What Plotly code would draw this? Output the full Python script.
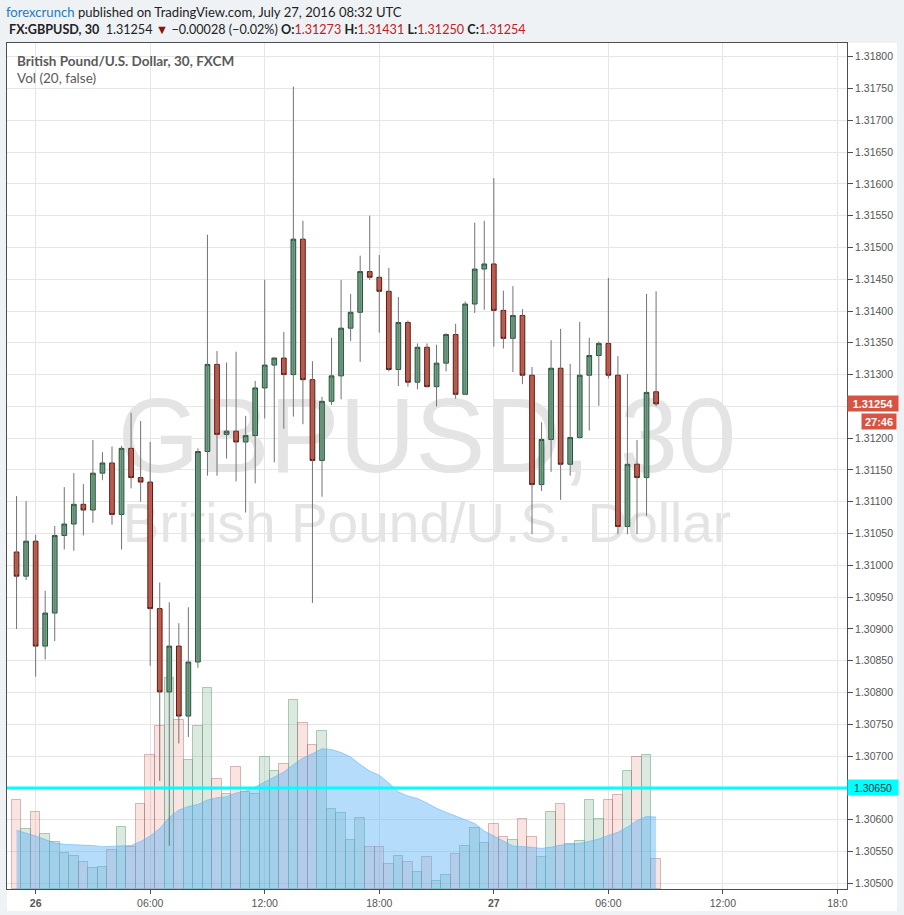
import plotly.graph_objects as go
import pandas as pd

# ---------------- data ----------------
bar_times = pd.date_range("2016-07-25 23:00", periods=68, freq="30min")

opens = [1.31021, 1.30983, 1.31038, 1.30873, 1.30925, 1.31047, 1.31065, 1.31096, 1.31087, 1.31145,
         1.31161, 1.31080, 1.31184, 1.31138, 1.31131, 1.30932, 1.30801, 1.30873, 1.30763, 1.30848,
         1.31179, 1.31316, 1.31206, 1.31211, 1.31194, 1.31204, 1.31279, 1.31315, 1.31326, 1.31300,
         1.31513, 1.31292, 1.31165, 1.31258, 1.31298, 1.31373, 1.31398, 1.31462, 1.31453, 1.31431,
         1.31308, 1.31382, 1.31288, 1.31343, 1.31281, 1.31318, 1.31363, 1.31269, 1.31411, 1.31466,
         1.31474, 1.31401, 1.31357, 1.31393, 1.31299, 1.31127, 1.31198, 1.31310, 1.31159, 1.31201,
         1.31299, 1.31330, 1.31349, 1.31299, 1.31061, 1.31159, 1.31138, 1.31273]
highs = [1.31109, 1.31101, 1.31048, 1.30960, 1.31062, 1.31123, 1.31145, 1.31128, 1.31197, 1.31178,
         1.31187, 1.31188, 1.31240, 1.31227, 1.31194, 1.30973, 1.30942, 1.30909, 1.30934, 1.31184,
         1.31520, 1.31337, 1.31319, 1.31336, 1.31235, 1.31290, 1.31449, 1.31327, 1.31367, 1.31753,
         1.31542, 1.31321, 1.31265, 1.31358, 1.31449, 1.31427, 1.31487, 1.31550, 1.31488, 1.31468,
         1.31422, 1.31385, 1.31349, 1.31349, 1.31347, 1.31365, 1.31380, 1.31415, 1.31539, 1.31542,
         1.31609, 1.31432, 1.31439, 1.31403, 1.31312, 1.31225, 1.31354, 1.31372, 1.31317, 1.31383,
         1.31358, 1.31352, 1.31452, 1.31329, 1.31301, 1.31197, 1.31427, 1.31431]
lows = [1.30900, 1.30977, 1.30825, 1.30852, 1.30881, 1.31025, 1.31023, 1.31047, 1.31067, 1.31134,
        1.31064, 1.31025, 1.31121, 1.31100, 1.30842, 1.30661, 1.30559, 1.30720, 1.30730, 1.30839,
        1.31141, 1.31141, 1.31168, 1.31132, 1.31083, 1.31129, 1.31231, 1.31162, 1.31215, 1.31234,
        1.31222, 1.30941, 1.31108, 1.31252, 1.31261, 1.31353, 1.31320, 1.31449, 1.31366, 1.31305,
        1.31282, 1.31281, 1.31277, 1.31280, 1.31250, 1.31305, 1.31262, 1.31268, 1.31397, 1.31402,
        1.31344, 1.31341, 1.31304, 1.31285, 1.31049, 1.31117, 1.31147, 1.31103, 1.31141, 1.31200,
        1.31212, 1.31251, 1.31294, 1.31049, 1.31049, 1.31049, 1.31078, 1.31250]
closes = [1.30983, 1.31038, 1.30873, 1.30925, 1.31047, 1.31065, 1.31096, 1.31087, 1.31145, 1.31161,
          1.31080, 1.31184, 1.31138, 1.31131, 1.30932, 1.30801, 1.30873, 1.30763, 1.30848, 1.31179,
          1.31316, 1.31206, 1.31211, 1.31194, 1.31204, 1.31279, 1.31315, 1.31326, 1.31300, 1.31513,
          1.31292, 1.31165, 1.31258, 1.31298, 1.31373, 1.31398, 1.31462, 1.31453, 1.31431, 1.31308,
          1.31382, 1.31288, 1.31343, 1.31281, 1.31318, 1.31363, 1.31269, 1.31411, 1.31466, 1.31474,
          1.31401, 1.31357, 1.31393, 1.31299, 1.31127, 1.31198, 1.31310, 1.31159, 1.31201, 1.31299,
          1.31330, 1.31349, 1.31299, 1.31061, 1.31159, 1.31138, 1.31272, 1.31254]
volumes = [887, 597, 767, 547, 467, 357, 327, 267, 207, 217, 387, 617, 420, 847, 1337, 1627, 2107,
           1687, 1287, 1627, 2007, 1097, 953, 1217, 970, 947, 1317, 1180, 1247, 1887, 1657, 1437,
           1577, 797, 757, 487, 707, 417, 417, 250, 327, 267, 167, 317, 77, 137, 350, 427, 607, 457,
           647, 517, 487, 697, 517, 317, 767, 847, 447, 477, 887, 697, 887, 937, 1177, 1317, 1337, 297]
vol_ma20 = [587, 560, 530, 495, 460, 447, 443, 441, 434, 423, 425, 430, 435, 475, 530, 605, 715,
            790, 825, 845, 890, 913, 923, 960, 980, 1020, 1070, 1125, 1170, 1245, 1310, 1353, 1403,
            1395, 1365, 1320, 1245, 1180, 1137, 1060, 970, 930, 905, 860, 807, 767, 727, 695, 655,
            580, 530, 480, 430, 425, 415, 407, 418, 440, 445, 455, 477, 500, 535, 567, 620, 685,
            725, 720]

x_tick_vals = ["2016-07-26 00:00", "2016-07-26 06:00", "2016-07-26 12:00", "2016-07-26 18:00",
               "2016-07-27 00:00", "2016-07-27 06:00", "2016-07-27 12:00", "2016-07-27 18:00"]
x_tick_text = ["<b>26</b>", "06:00", "12:00", "18:00", "<b>27</b>", "06:00", "12:00", "18:0"]
y_tick_vals = [round(1.305 + 0.0005 * k, 4) for k in range(27)]

last_price = 1.31254
countdown = "27:46"
level_line = 1.30650

X_RANGE = ["2016-07-25 22:30", "2016-07-27 18:30"]
PRICE_RANGE = [1.304910, 1.318215]
VOL_RANGE = [0, 8460]

# tick labels hidden behind the axis price labels (gridlines kept)
hidden_ticks = [1.3125, 1.3065]
y_tick_text = ["" if v in hidden_ticks else f"{v:.5f}" for v in y_tick_vals]

# ---------------- style ----------------
UP_FILL, UP_LINE = "#6ba583", "#225437"
DN_FILL, DN_LINE = "#d75442", "#5b1a13"
WICK = "#737375"
GRID = "#e6e6e6"
AXIS = "#4d4d4d"
TXT = "#555555"
PAGE = "#eef2f5"

W, H = 904, 915
L, R, T, B = 7, 57, 43, 26
PW, PH = W - L - R, H - T - B


def px_x(px):
    return (px - L) / PW


def px_y(py):
    return (H - B - py) / PH


fig = go.Figure()

# watermark (beneath everything)
t0, t1 = pd.Timestamp(X_RANGE[0]), pd.Timestamp(X_RANGE[1])
x_mid = t0 + (t1 - t0) / 2
fig.add_trace(go.Scatter(
    x=[x_mid], y=[VOL_RANGE[1] * 0.524], yaxis="y",
    mode="text", text=["GBPUSD, 30"], textposition="middle center",
    textfont=dict(family="Liberation Sans, Arial, sans-serif", size=105, color="#e4e4e4"),
    hoverinfo="skip", showlegend=False))
fig.add_trace(go.Scatter(
    x=[x_mid], y=[VOL_RANGE[1] * 0.427], yaxis="y",
    mode="text", text=["British Pound/U.S. Dollar"], textposition="middle center",
    textfont=dict(family="Liberation Sans, Arial, sans-serif", size=55, color="#e4e4e4"),
    hoverinfo="skip", showlegend=False))

# volume moving-average area
fig.add_trace(go.Scatter(
    x=bar_times, y=vol_ma20, yaxis="y", mode="lines", fill="tozeroy",
    line=dict(color="rgba(90,178,246,0.55)", width=1),
    fillcolor="rgba(90,178,246,0.45)", hoverinfo="skip", showlegend=False))

# volume bars
is_up = [c >= o for o, c in zip(opens, closes)]
fig.add_trace(go.Bar(
    x=bar_times, y=volumes, yaxis="y",
    marker=dict(color=["rgba(107,165,131,0.24)" if u else "rgba(215,84,66,0.16)" for u in is_up],
                line=dict(color=["rgba(107,165,131,0.55)" if u else "rgba(160,90,90,0.4)" for u in is_up],
                          width=1)),
    hoverinfo="skip", showlegend=False))

# wicks
wx, wy = [], []
for t, lo, hi in zip(bar_times, lows, highs):
    wx += [t, t, None]
    wy += [lo, hi, None]
fig.add_trace(go.Scatter(x=wx, y=wy, yaxis="y2", mode="lines",
                         line=dict(color=WICK, width=1), hoverinfo="skip", showlegend=False))

# bodies
fig.add_trace(go.Candlestick(
    x=bar_times, open=opens, close=closes,
    high=[max(o, c) for o, c in zip(opens, closes)],
    low=[min(o, c) for o, c in zip(opens, closes)],
    yaxis="y2", whiskerwidth=0,
    increasing=dict(fillcolor=UP_FILL, line=dict(color=UP_LINE, width=1)),
    decreasing=dict(fillcolor=DN_FILL, line=dict(color=DN_LINE, width=1)),
    hoverinfo="skip", showlegend=False))

axis_font = dict(family="Liberation Sans, Arial, sans-serif", size=10.5, color=TXT)

fig.update_layout(
    width=W, height=H,
    margin=dict(l=L, r=R, t=T, b=B, pad=0),
    paper_bgcolor=PAGE, plot_bgcolor="#ffffff",
    showlegend=False, bargap=0, boxgap=0.3,
    xaxis=dict(type="date", range=X_RANGE, rangeslider=dict(visible=False),
               tickmode="array", tickvals=x_tick_vals, ticktext=x_tick_text,
               showgrid=True, gridcolor=GRID, gridwidth=1, zeroline=False,
               showline=True, linecolor=AXIS, linewidth=1, mirror=True,
               ticks="outside", ticklen=4, tickcolor=AXIS, tickfont=axis_font),
    yaxis=dict(range=VOL_RANGE, showgrid=False, zeroline=False, showticklabels=False,
               showline=True, linecolor=AXIS, linewidth=1, ticks=""),
    yaxis2=dict(overlaying="y", side="right", range=PRICE_RANGE,
                tickmode="array", tickvals=y_tick_vals, ticktext=y_tick_text,
                showgrid=True, gridcolor=GRID, gridwidth=1, zeroline=False,
                showline=True, linecolor=AXIS, linewidth=1,
                ticks="outside", ticklen=5, tickcolor=AXIS, tickfont=axis_font),
)

# white chart frame behind plot + axes
fig.add_shape(type="rect", xref="paper", yref="paper", x0=0, x1=px_x(897), y0=px_y(911), y1=1,
              fillcolor="#ffffff", line=dict(width=0), layer="below")
# horizontal level line
fig.add_shape(type="line", xref="paper", yref="y2", x0=0, x1=1, y0=level_line, y1=level_line,
              line=dict(color="#00ffff", width=3), layer="above")

hdr_font = "Lato, Open Sans, sans-serif"
red = "#c0211f"
sp = "\u00a0"
fig.add_annotation(
    xref="paper", yref="paper", x=px_x(4), y=px_y(12), xanchor="left", yanchor="middle",
    showarrow=False, align="left",
    text="<span style='color:#2a7ab8'>forexcrunch</span> published on TradingView.com, July 27, 2016 08:32 UTC",
    font=dict(family=hdr_font, size=13.1, color="#222222"))
fig.add_annotation(
    xref="paper", yref="paper", x=px_x(7), y=px_y(30), xanchor="left", yanchor="middle",
    showarrow=False, align="left",
    text=("<b>FX:GBPUSD, 30</b>" + sp + sp + f"{last_price:.5f}" + sp +
          "<span style='color:#8b1010'>\u25bc</span>" + sp + "\u22120.00028 (\u22120.02%)" + sp +
          f"<b>O:</b><span style='color:{red}'>{opens[-1]:.5f}</span>" + sp +
          f"<b>H:</b><span style='color:{red}'>{highs[-1]:.5f}</span>" + sp +
          f"<b>L:</b><span style='color:{red}'>{lows[-1]:.5f}</span>" + sp +
          f"<b>C:</b><span style='color:{red}'>{closes[-1]:.5f}</span>"),
    font=dict(family=hdr_font, size=12.6, color="#222222"))
fig.add_annotation(
    xref="paper", yref="paper", x=px_x(15), y=px_y(61), xanchor="left", yanchor="middle",
    showarrow=False, align="left", text="<b>British Pound/U.S. Dollar, 30, FXCM</b>",
    font=dict(family=hdr_font, size=13.5, color="#5a5a5a"))
fig.add_annotation(
    xref="paper", yref="paper", x=px_x(15), y=px_y(78), xanchor="left", yanchor="middle",
    showarrow=False, align="left", text="Vol (20, false)",
    font=dict(family=hdr_font, size=13.5, color="#5a5a5a"))

# axis price labels
fig.add_annotation(
    xref="paper", yref="y2", x=1, y=last_price, xanchor="left", yanchor="middle",
    showarrow=False, text=f"<b>{last_price:.5f}</b>", bgcolor=DN_FILL, width=48, height=13,
    borderpad=1, font=dict(family="Liberation Sans, Arial", size=11, color="#ffffff"))
fig.add_annotation(
    xref="paper", yref="y2", x=px_x(897), y=last_price, yshift=-18, xanchor="right",
    yanchor="middle", showarrow=False, text=f"<b>{countdown}</b>", bgcolor=DN_FILL, width=32,
    height=13, borderpad=1, font=dict(family="Liberation Sans, Arial", size=11, color="#ffffff"))
fig.add_annotation(
    xref="paper", yref="y2", x=1, y=level_line, xanchor="left", yanchor="middle",
    showarrow=False, text=f"{level_line:.5f}", bgcolor="#00ffff", width=48, height=13,
    borderpad=1, font=dict(family="Liberation Sans, Arial", size=10.5, color="#333333"))

fig.write_html(
    "out.html",
    config={"displayModeBar": False},
    post_script="document.body.style.margin='0';document.body.style.padding='0';"
                "document.body.style.background='" + PAGE + "';"
                "document.documentElement.style.overflow='hidden';")
